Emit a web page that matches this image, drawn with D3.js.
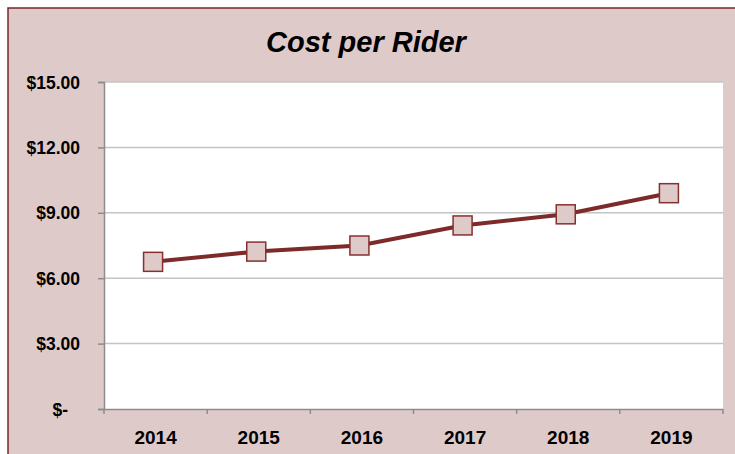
<!DOCTYPE html>
<html>
<head>
<meta charset="utf-8">
<script src="https://cdn.jsdelivr.net/npm/d3@7"></script>
<style>
  body { margin: 0; background: #fff; }
  svg text { font-family: "Liberation Sans", Arial, sans-serif; font-weight: bold; fill: #000; }
</style>
</head>
<body>
<div id="chart"></div>
<script>
// values
let years = ['2014', '2015', '2016', '2017', '2018', '2019']
let costPerRider = [6.75, 7.22, 7.50, 8.42, 8.93, 9.90]
let yTicks = [0, 3, 6, 9, 12, 15]

let width = 735
let height = 454
let plot = {left: 104, right: 723, top: 82, bottom: 409}

let svg = d3.select('#chart')
  .append('svg')
  .attr('width', width)
  .attr('height', height)

// chart background with the dark red border on top / left
svg.append('rect')
  .attr('x', 8).attr('y', 8)
  .attr('width', width - 8).attr('height', height - 8)
  .attr('fill', '#dfcaca')
svg.append('path')
  .attr('d', `M8,${height}V8H${width}`)
  .attr('fill', 'none')
  .attr('stroke', '#7a2626')
  .attr('stroke-width', 1.5)

// plot area
svg.append('rect')
  .attr('x', plot.left).attr('y', plot.top)
  .attr('width', plot.right - plot.left).attr('height', plot.bottom - plot.top)
  .attr('fill', '#fff')

svg.append('text')
  .attr('x', 366)
  .attr('y', 52)
  .attr('text-anchor', 'middle')
  .attr('font-size', 29)
  .attr('font-style', 'italic')
  .text('Cost per Rider')

let x = d3.scaleBand()
  .domain(years)
  .range([plot.left, plot.right])

let y = d3.scaleLinear()
  .domain([0, 15])
  .range([plot.bottom, plot.top])

// gridlines
svg.append('g')
  .selectAll('line')
  .data(yTicks.filter(d => d > 0))
  .enter()
  .append('line')
  .attr('x1', plot.left)
  .attr('x2', plot.right)
  .attr('y1', d => y(d))
  .attr('y2', d => y(d))
  .attr('stroke', '#c4c4c4')
  .attr('stroke-width', 1.5)

// y axis
let yAxis = svg.append('g')
  .attr('transform', `translate(${plot.left},0)`)
  .call(d3.axisLeft(y)
    .tickValues(yTicks)
    .tickSize(6)
    .tickPadding(18)
    .tickFormat(d => d === 0 ? '$-' : '$' + d3.format('.2f')(d)))
yAxis.select('.domain').attr('stroke', '#8c8c8c').attr('stroke-width', 1.5)
yAxis.selectAll('.tick line').attr('stroke', '#8c8c8c').attr('stroke-width', 1.5)
yAxis.selectAll('.tick text').attr('font-size', 17.5).attr('dy', '0.35em')
yAxis.selectAll('.tick').filter(d => d === 0).select('text').attr('dx', -12)

// x axis, ticks at band edges
let xAxis = svg.append('g')
  .attr('transform', `translate(0,${plot.bottom})`)
  .call(d3.axisBottom(x).tickSize(0).tickPadding(22))
xAxis.select('.domain').attr('stroke', '#8c8c8c').attr('stroke-width', 1.5)
xAxis.selectAll('.tick text').attr('font-size', 19).attr('dy', '0.71em')
xAxis.selectAll('line.edge')
  .data(years.map(d => x(d)).concat([plot.right]))
  .enter()
  .append('line')
  .attr('class', 'edge')
  .attr('x1', d => d).attr('x2', d => d)
  .attr('y1', 0).attr('y2', 5)
  .attr('stroke', '#8c8c8c')
  .attr('stroke-width', 1.5)

// the line (excel draws the markers a touch left of the label centre)
let markerShift = -2.5
let cx = (i) => x(years[i]) + x.bandwidth() / 2 + markerShift
let line = d3.line()
  .x((d, i) => cx(i))
  .y(d => y(d))

svg.append('path')
  .datum(costPerRider)
  .attr('d', line)
  .attr('fill', 'none')
  .attr('stroke', '#7c2a2a')
  .attr('stroke-width', 4)

let markerSize = 19
svg.selectAll('rect.marker')
  .data(costPerRider)
  .enter()
  .append('rect')
  .attr('class', 'marker')
  .attr('x', (d, i) => cx(i) - markerSize / 2)
  .attr('y', d => y(d) - markerSize / 2)
  .attr('width', markerSize)
  .attr('height', markerSize)
  .attr('fill', '#dfcaca')
  .attr('stroke', '#86302f')
  .attr('stroke-width', 1.5)
</script>
</body>
</html>
